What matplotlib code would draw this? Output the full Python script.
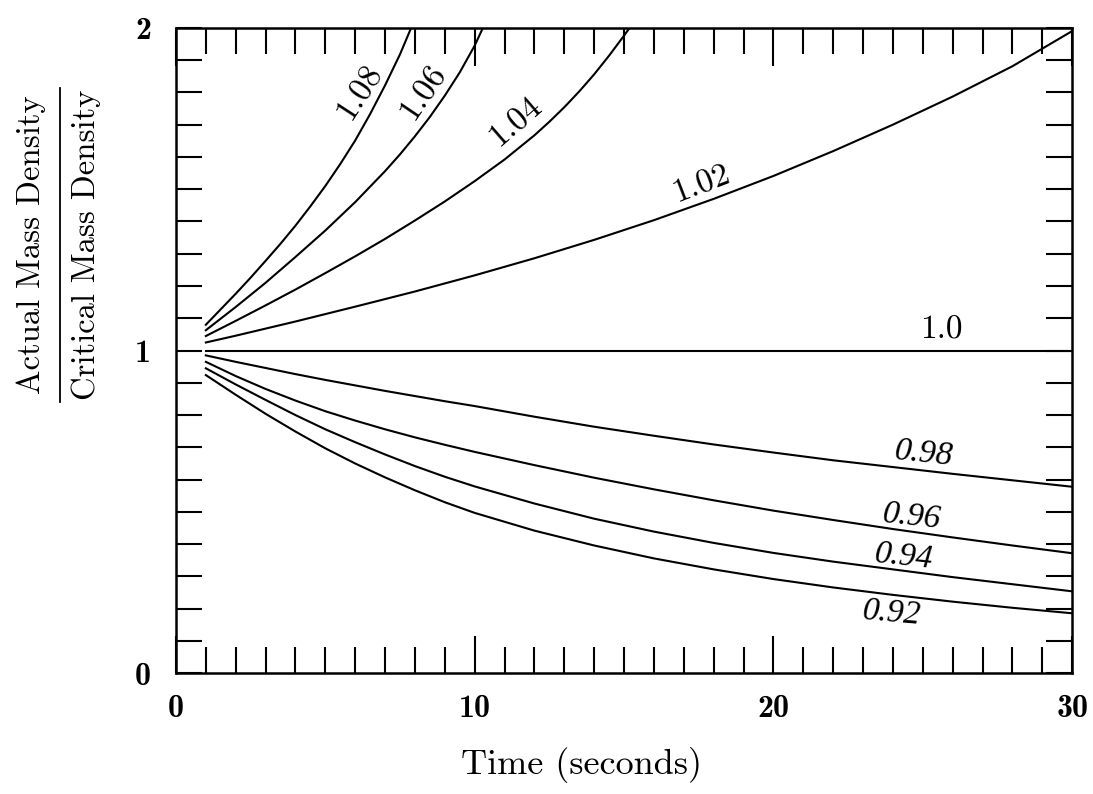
# Density parameter curves: actual / critical mass density vs time
import matplotlib
matplotlib.use('Agg')
import matplotlib.pyplot as plt
from matplotlib.lines import Line2D
from matplotlib.ticker import MultipleLocator

plt.rcParams['mathtext.fontset'] = 'cm'
plt.rcParams['axes.unicode_minus'] = False

# values (time in s, density ratio)
t_108 = [1, 1.5, 2, 2.5, 3, 3.5, 4, 4.5, 5, 5.5, 6, 6.5, 7, 7.5, 7.85]
r_108 = [1.08, 1.128, 1.176, 1.226, 1.278, 1.331, 1.387, 1.447, 1.510,
         1.578, 1.651, 1.733, 1.822, 1.918, 1.995]

t_106 = [1, 2, 3, 4, 5, 6, 7, 7.5, 8, 8.5, 9, 9.5, 10, 10.25]
r_106 = [1.063, 1.135, 1.21, 1.29, 1.372, 1.46, 1.556, 1.608, 1.664,
         1.724, 1.79, 1.862, 1.945, 1.995]

t_104 = [1, 2, 3, 4, 5, 6, 7, 8, 9, 10, 11, 12, 12.5, 13, 13.5, 14, 14.5, 15, 15.17]
r_104 = [1.045, 1.092, 1.140, 1.189, 1.240, 1.292, 1.346, 1.403, 1.462,
         1.525, 1.592, 1.667, 1.709, 1.754, 1.803, 1.856, 1.914, 1.976, 1.998]

t_102 = [1, 2, 3, 4, 6, 8, 10, 12, 14, 16, 18, 20, 22, 24, 26, 28, 30]
r_102 = [1.025, 1.046, 1.068, 1.090, 1.136, 1.183, 1.233, 1.286, 1.343,
         1.404, 1.470, 1.541, 1.618, 1.700, 1.787, 1.881, 1.99]

t_100 = [1, 30]
r_100 = [1.0, 1.0]

t_low = [1, 2, 3, 4, 5, 6, 7, 8, 9, 10, 12, 14, 16, 18, 20, 22, 24, 26, 28, 30]
r_098 = [0.985, 0.965, 0.946, 0.927, 0.909, 0.892, 0.875, 0.859, 0.843, 0.828,
         0.795, 0.764, 0.736, 0.709, 0.684, 0.660, 0.639, 0.618, 0.598, 0.578]
r_096 = [0.965, 0.921, 0.881, 0.845, 0.812, 0.783, 0.756, 0.731, 0.708, 0.686,
         0.645, 0.606, 0.570, 0.536, 0.504, 0.475, 0.447, 0.421, 0.396, 0.372]
r_094 = [0.945, 0.895, 0.847, 0.800, 0.756, 0.716, 0.678, 0.642, 0.609, 0.579,
         0.526, 0.479, 0.439, 0.404, 0.373, 0.346, 0.322, 0.298, 0.276, 0.254]
r_092 = [0.924, 0.863, 0.804, 0.749, 0.697, 0.650, 0.607, 0.567, 0.530, 0.497,
         0.442, 0.396, 0.356, 0.322, 0.292, 0.266, 0.243, 0.222, 0.203, 0.186]

curves = [(t_108, r_108), (t_106, r_106), (t_104, r_104), (t_102, r_102),
          (t_100, r_100), (t_low, r_098), (t_low, r_096), (t_low, r_094),
          (t_low, r_092)]

curve_labels = ['1.08', '1.06', '1.04', '1.02', '1.0', '0.98', '0.96', '0.94', '0.92']

x_ticks = [0, 10, 20, 30]
y_ticks = [0, 1, 2]

fig = plt.figure(figsize=(10.93, 7.94), dpi=100)
ax = fig.add_axes([0.161, 0.152, 0.820, 0.813])

for t, r in curves:
    ax.plot(t, r, color='black', lw=1.5)

# label placement (x, y, rotation, slanted?)
label_pos = [(6.16, 1.80, 57, False), (8.28, 1.80, 56, False),
             (11.35, 1.71, 41, False), (17.6, 1.515, 21, False),
             (25.63, 1.064, 0, False), (25.02, 0.681, -6, True),
             (24.63, 0.485, -6, True), (24.35, 0.361, -6, True),
             (23.96, 0.185, -5, True)]
for lab, (lx, ly, rot, slanted) in zip(curve_labels, label_pos):
    if slanted:
        ax.text(lx, ly, lab, rotation=rot, ha='center', va='center',
                fontsize=24, family='Liberation Serif', style='italic',
                rotation_mode='anchor')
    else:
        ax.text(lx, ly, lab, rotation=rot, ha='center', va='center',
                fontsize=24, family='cmr10', rotation_mode='anchor')

ax.set_xlim(0, 30)
ax.set_ylim(0, 2)

ax.set_xticks(x_ticks)
ax.set_yticks(y_ticks)
ax.set_xticklabels([str(v) for v in x_ticks], family='cmb10', fontsize=23)
ax.set_yticklabels([str(v) for v in y_ticks], family='cmb10', fontsize=23)
ax.xaxis.set_minor_locator(MultipleLocator(1))
ax.yaxis.set_minor_locator(MultipleLocator(0.1))

ax.tick_params(which='both', direction='in', top=True, right=True,
               width=1.5, color='black')
ax.tick_params(axis='x', which='major', length=27, pad=15)
ax.tick_params(axis='x', which='minor', length=19)
ax.tick_params(axis='y', which='both', length=19, pad=18)

for sp in ax.spines.values():
    sp.set_linewidth(1.8)

fig.text(0.532, 0.037, 'Time (seconds)', family='cmr10', fontsize=26,
         ha='center', va='center')

# y label drawn as a fraction
fig.text(31 / 1093, 1 - 245 / 794, 'Actual Mass Density', family='cmr10',
         fontsize=23.5, rotation=90, ha='center', va='center')
fig.text(86 / 1093, 1 - 245 / 794, 'Critical Mass Density', family='cmr10',
         fontsize=23.5, rotation=90, ha='center', va='center')
fig.add_artist(Line2D([60 / 1093, 60 / 1093], [1 - 88 / 794, 1 - 402 / 794],
                      transform=fig.transFigure, color='black', lw=1.3))

fig.savefig('out.png', dpi=100)
